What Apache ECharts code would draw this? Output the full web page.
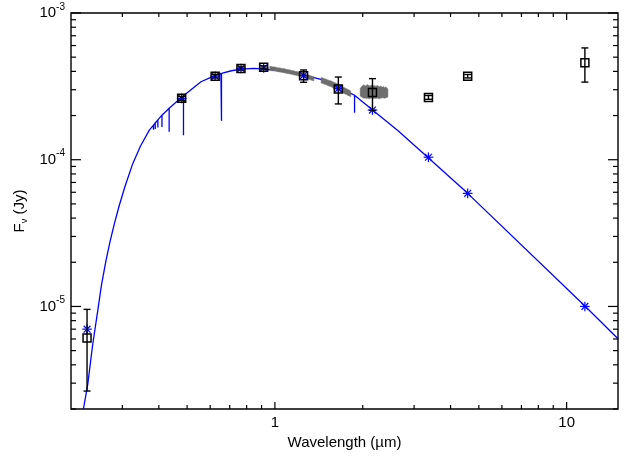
<!DOCTYPE html>
<html lang="en">
<head>
    <meta charset="UTF-8">
    <title>SED</title>
    <script src="https://cdn.jsdelivr.net/npm/echarts@6.0.0/dist/echarts.min.js"></script>
    <style>
        html, body {
            margin: 0;
            padding: 0;
            background: #fff;
        }
        #chart {
            width: 643px;
            height: 457px;
        }
    </style>
</head>
<body>
<div id="chart"></div>
<script>
    // axis ranges
    var xMin = 0.2, xMax = 15;
    var yMin = 2e-6, yMax = 1e-3;

    // tick values (um and Jy)
    var xMajorTicks = [1, 10];
    var xMinorTicks = [0.3, 0.4, 0.5, 0.6, 0.7, 0.8, 0.9, 2, 3, 4, 5, 6, 7, 8, 9];
    var yMajorTicks = [1e-5, 1e-4, 1e-3];
    var yMinorTicks = [2e-6, 3e-6, 4e-6, 5e-6, 6e-6, 7e-6, 8e-6, 9e-6,
        2e-5, 3e-5, 4e-5, 5e-5, 6e-5, 7e-5, 8e-5, 9e-5,
        2e-4, 3e-4, 4e-4, 5e-4, 6e-4, 7e-4, 8e-4, 9e-4];

    // observed photometry (squares)
    var obsWave = [0.227, 0.479, 0.624, 0.765, 0.915, 1.254, 1.65, 2.16, 3.36, 4.58, 11.55];
    var obsFlux = [6.1e-6, 2.62e-4, 3.71e-4, 4.19e-4, 4.26e-4, 3.73e-4, 3.03e-4, 2.87e-4, 2.66e-4, 3.71e-4, 4.58e-4];
    var obsErr = [3.45e-6, 0.08e-4, 0.1e-4, 0.1e-4, 0.1e-4, 0.36e-4, 0.63e-4, 0.7e-4, 0.08e-4, 0.1e-4, 1.2e-4];

    // model photometry (asterisks)
    var modWave = [0.227, 0.479, 0.624, 0.765, 0.915, 1.254, 1.65, 2.16, 3.36, 4.58, 11.55];
    var modFlux = [7.0e-6, 2.62e-4, 3.71e-4, 4.19e-4, 4.22e-4, 3.75e-4, 3.05e-4, 2.18e-4, 1.04e-4, 5.9e-5, 1.0e-5];

    // model spectrum, with the absorption lines as vertical dips
    var modelSpec = [
        [0.2206, 2.0e-6], [0.2284, 2.97e-6], [0.2371, 5.42e-6], [0.2471, 9.4e-6],
        [0.2545, 1.41e-5], [0.2637, 2.06e-5], [0.2723, 2.78e-5], [0.2817, 3.67e-5],
        [0.2922, 4.82e-5], [0.3064, 6.59e-5], [0.3256, 9.4e-5], [0.3462, 1.24e-4],
        [0.3711, 1.59e-4],
        [0.3835, 1.72e-4], [0.3835, 1.60e-4], [0.3835, 1.72e-4],
        [0.3889, 1.78e-4], [0.3889, 1.62e-4], [0.3889, 1.78e-4],
        [0.397, 1.87e-4], [0.397, 1.66e-4], [0.397, 1.87e-4],
        [0.4022, 1.93e-4],
        [0.410, 2.01e-4], [0.410, 1.67e-4], [0.410, 2.01e-4],
        [0.434, 2.24e-4], [0.434, 1.55e-4], [0.434, 2.24e-4],
        [0.4403, 2.29e-4],
        [0.486, 2.73e-4], [0.486, 1.47e-4], [0.486, 2.73e-4],
        [0.489, 2.76e-4], [0.558, 3.40e-4], [0.60, 3.63e-4], [0.653, 3.88e-4],
        [0.656, 3.88e-4], [0.656, 1.84e-4], [0.656, 3.88e-4],
        [0.71, 4.04e-4], [0.765, 4.15e-4], [0.85, 4.2e-4], [0.919, 4.15e-4],
        [1.04, 4.04e-4], [1.165, 3.88e-4], [1.30, 3.72e-4],
        [1.437, 3.53e-4], [1.640, 3.14e-4], [1.821, 2.83e-4],
        [1.875, 2.75e-4], [1.875, 2.09e-4], [1.875, 2.75e-4],
        [2.161, 2.18e-4], [2.632, 1.59e-4], [3.34, 1.04e-4], [4.58, 5.9e-5],
        [11.6, 1.0e-5], [15, 6.02e-6]
    ];

    // observed near-IR spectrum: [wavelength, low edge, high edge] of the noisy trace,
    // three pieces between the telluric gaps
    var specJ = [
        [0.96, 4.06e-4, 4.33e-4], [0.98, 4.04e-4, 4.30e-4], [1.00, 4.02e-4, 4.29e-4],
        [1.02, 3.99e-4, 4.24e-4], [1.04, 3.96e-4, 4.22e-4], [1.06, 3.93e-4, 4.19e-4],
        [1.08, 3.91e-4, 4.17e-4], [1.10, 3.87e-4, 4.12e-4], [1.12, 3.85e-4, 4.10e-4],
        [1.14, 3.82e-4, 4.06e-4], [1.16, 3.79e-4, 4.04e-4], [1.18, 3.76e-4, 4.00e-4],
        [1.20, 3.73e-4, 3.98e-4], [1.22, 3.69e-4, 3.93e-4], [1.24, 3.66e-4, 3.90e-4],
        [1.26, 3.62e-4, 3.86e-4], [1.28, 3.59e-4, 3.83e-4], [1.30, 3.55e-4, 3.78e-4],
        [1.32, 3.52e-4, 3.75e-4], [1.34, 3.47e-4, 3.70e-4], [1.36, 3.45e-4, 3.67e-4]
    ];
    var specH = [
        [1.44, 3.34e-4, 3.64e-4], [1.46, 3.31e-4, 3.60e-4], [1.48, 3.27e-4, 3.57e-4],
        [1.50, 3.24e-4, 3.54e-4], [1.52, 3.20e-4, 3.50e-4], [1.54, 3.17e-4, 3.47e-4],
        [1.56, 3.14e-4, 3.44e-4], [1.58, 3.10e-4, 3.40e-4], [1.60, 3.06e-4, 3.36e-4],
        [1.62, 3.02e-4, 3.32e-4], [1.64, 2.98e-4, 3.28e-4], [1.66, 2.95e-4, 3.24e-4],
        [1.68, 2.91e-4, 3.20e-4], [1.70, 2.88e-4, 3.16e-4], [1.72, 2.84e-4, 3.12e-4],
        [1.74, 2.81e-4, 3.08e-4], [1.76, 2.78e-4, 3.05e-4], [1.78, 2.74e-4, 3.01e-4],
        [1.80, 2.72e-4, 2.98e-4], [1.82, 2.69e-4, 2.94e-4]
    ];
    var specK = [
        [1.96, 2.72e-4, 3.06e-4], [1.98, 2.68e-4, 3.14e-4], [2.00, 2.64e-4, 3.20e-4],
        [2.02, 2.62e-4, 3.24e-4], [2.04, 2.63e-4, 3.18e-4], [2.06, 2.61e-4, 3.22e-4],
        [2.08, 2.62e-4, 3.26e-4], [2.10, 2.60e-4, 3.20e-4], [2.12, 2.61e-4, 3.18e-4],
        [2.14, 2.63e-4, 3.22e-4], [2.16, 2.62e-4, 3.24e-4], [2.18, 2.60e-4, 3.18e-4],
        [2.20, 2.62e-4, 3.20e-4], [2.22, 2.61e-4, 3.16e-4], [2.24, 2.63e-4, 3.22e-4],
        [2.26, 2.62e-4, 3.18e-4], [2.28, 2.60e-4, 3.14e-4], [2.30, 2.62e-4, 3.18e-4],
        [2.32, 2.63e-4, 3.16e-4], [2.34, 2.64e-4, 3.12e-4], [2.36, 2.63e-4, 3.16e-4],
        [2.38, 2.62e-4, 3.10e-4], [2.40, 2.64e-4, 3.14e-4], [2.42, 2.65e-4, 3.08e-4],
        [2.44, 2.68e-4, 3.02e-4]
    ];

    var FONT = 'Liberation Sans';

    function isDecade(v) {
        var l = Math.log10(v);
        return Math.abs(l - Math.round(l)) < 1e-6;
    }

    function line(a, b, color, width) {
        return {
            type: 'line',
            shape: {x1: a[0], y1: a[1], x2: b[0], y2: b[1]},
            style: {stroke: color, lineWidth: width}
        };
    }

    // tick marks on all four sides of the box
    function drawTicks(params, api) {
        var kids = [];
        xMajorTicks.concat(xMinorTicks).forEach(function (v) {
            var len = xMajorTicks.indexOf(v) >= 0 ? 7 : 4;
            var b = api.coord([v, yMin]), t = api.coord([v, yMax]);
            kids.push(line(b, [b[0], b[1] - len], '#000', 1.2));
            kids.push(line(t, [t[0], t[1] + len], '#000', 1.2));
        });
        yMajorTicks.concat(yMinorTicks).forEach(function (v) {
            var len = yMajorTicks.indexOf(v) >= 0 ? 10 : 5;
            var l = api.coord([xMin, v]), r = api.coord([xMax, v]);
            kids.push(line(l, [l[0] + len, l[1]], '#000', 1.2));
            kids.push(line(r, [r[0] - len, r[1]], '#000', 1.2));
        });
        return {type: 'group', children: kids};
    }

    function drawStar(params, api) {
        var p = api.coord([api.value(0), api.value(1)]);
        var r = 4.8, d = 3.4;
        return {
            type: 'group',
            children: [
                line([p[0] - r, p[1]], [p[0] + r, p[1]], '#0000ff', 1.2),
                line([p[0], p[1] - r], [p[0], p[1] + r], '#0000ff', 1.2),
                line([p[0] - d, p[1] - d], [p[0] + d, p[1] + d], '#0000ff', 1.2),
                line([p[0] - d, p[1] + d], [p[0] + d, p[1] - d], '#0000ff', 1.2)
            ]
        };
    }

    function drawErr(params, api) {
        var lo = api.coord([api.value(0), api.value(1)]);
        var hi = api.coord([api.value(0), api.value(2)]);
        var c = 3.5;
        return {
            type: 'group',
            children: [
                line(lo, hi, '#000', 1.4),
                line([lo[0] - c, lo[1]], [lo[0] + c, lo[1]], '#000', 1.4),
                line([hi[0] - c, hi[1]], [hi[0] + c, hi[1]], '#000', 1.4)
            ]
        };
    }

    // a noisy spectrum piece drawn as one filled band: high edge out, low edge back
    function specSeries(data) {
        return {
            type: 'custom',
            data: data,
            encode: {x: 0, y: [1, 2]},
            renderItem: function (params, api) {
                if (params.dataIndex !== 0) return null;
                var top = data.map(function (d) { return api.coord([d[0], d[2]]); });
                var bot = data.map(function (d) { return api.coord([d[0], d[1]]); }).reverse();
                return {
                    type: 'polygon',
                    shape: {points: top.concat(bot)},
                    style: {fill: '#6e6e6e', stroke: '#6e6e6e', lineWidth: 0.5}
                };
            },
            clip: true,
            z: 3
        };
    }

    var obsPoints = obsWave.map(function (w, i) { return [w, obsFlux[i]]; });
    var errPoints = obsWave.map(function (w, i) { return [w, obsFlux[i] - obsErr[i], obsFlux[i] + obsErr[i]]; });
    var modPoints = modWave.map(function (w, i) { return [w, modFlux[i]]; });

    var myChart = echarts.init(document.getElementById('chart'));
    var option = {
        animation: false,
        textStyle: {fontFamily: FONT, color: '#000'},
        grid: {
            left: 71, top: 13, width: 547, height: 396,
            show: true, borderColor: '#000', borderWidth: 1.4,
            containLabel: false
        },
        xAxis: {
            type: 'log',
            logBase: 10,
            min: xMin,
            max: xMax,
            name: 'Wavelength (\u00b5m)',
            nameLocation: 'middle',
            nameGap: 23,
            nameTextStyle: {fontFamily: FONT, fontSize: 15, color: '#000'},
            axisLine: {show: false},
            axisTick: {show: false},
            splitLine: {show: false},
            axisLabel: {
                fontFamily: FONT, fontSize: 15, color: '#000', margin: 6,
                formatter: function (v) {
                    return isDecade(v) ? String(Math.round(v)) : '';
                }
            }
        },
        yAxis: {
            type: 'log',
            logBase: 10,
            min: yMin,
            max: yMax,
            name: 'F{sub|\u03bd} (Jy)',
            nameLocation: 'middle',
            nameGap: 38,
            nameTextStyle: {
                fontFamily: FONT, fontSize: 15, color: '#000',
                rich: {sub: {fontFamily: FONT, fontSize: 9, color: '#000', padding: [8, 0, 0, 0]}}
            },
            axisLine: {show: false},
            axisTick: {show: false},
            splitLine: {show: false},
            axisLabel: {
                margin: 6,
                formatter: function (v) {
                    if (!isDecade(v)) return '';
                    return '{b|10}{s|' + Math.round(Math.log10(v)) + '}';
                },
                rich: {
                    b: {fontFamily: FONT, fontSize: 15, color: '#000'},
                    s: {fontFamily: FONT, fontSize: 10, color: '#000', padding: [0, 0, 12, 0]}
                }
            }
        },
        series: [
            {
                type: 'line',
                data: modelSpec,
                showSymbol: false,
                lineStyle: {color: '#0000ff', width: 1.3},
                z: 2
            },
            specSeries(specJ),
            specSeries(specH),
            specSeries(specK),
            {
                type: 'custom',
                data: modPoints,
                renderItem: drawStar,
                clip: true,
                z: 4
            },
            {
                type: 'custom',
                data: errPoints,
                encode: {x: 0, y: [1, 2]},
                renderItem: drawErr,
                clip: true,
                z: 5
            },
            {
                type: 'scatter',
                data: obsPoints,
                symbol: 'rect',
                symbolSize: 8,
                itemStyle: {color: 'rgba(0,0,0,0)', borderColor: '#000', borderWidth: 1.5, opacity: 1},
                z: 6
            },
            {
                type: 'custom',
                data: [[1, 1e-4]],
                renderItem: drawTicks,
                clip: false,
                silent: true,
                z: 7
            }
        ]
    };
    myChart.setOption(option);
</script>
</body>
</html>
